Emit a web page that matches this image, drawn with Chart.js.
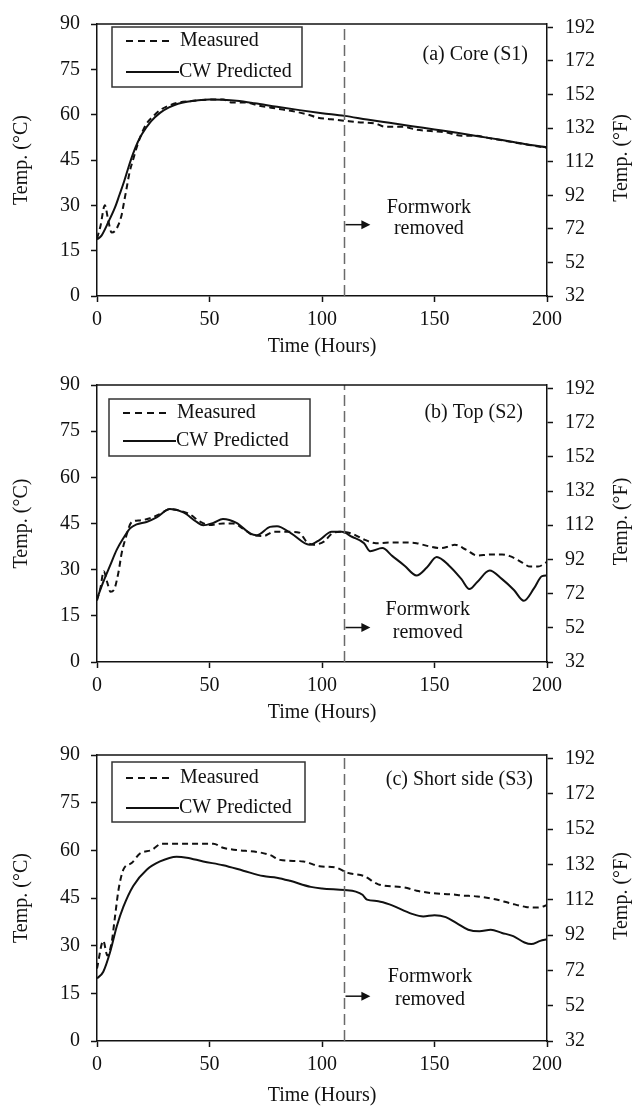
<!DOCTYPE html>
<html>
<head>
<meta charset="utf-8">
<script src="https://cdn.jsdelivr.net/npm/chart.js@4.4.1/dist/chart.umd.min.js"></script>
<style>
  body { margin: 0; background: #fff; width: 634px; height: 1109px; position: relative; overflow: hidden; }
  .panel { position: absolute; left: 0; }
</style>
</head>
<body>
<div class="panel" style="top:0"><canvas id="c1" width="634" height="359"></canvas></div>
<div class="panel" style="top:361px"><canvas id="c2" width="634" height="364"></canvas></div>
<div class="panel" style="top:731px"><canvas id="c3" width="634" height="377"></canvas></div>
<script>
// tick labels
const hourTicks = [0, 50, 100, 150, 200];
const celsiusTicks = [0, 15, 30, 45, 60, 75, 90];
const fahrenheitTicks = [32, 52, 72, 92, 112, 132, 152, 172, 192];
const formworkHour = 110;

// (a) core S1
const coreMeasHours = [0, 1.5, 3.5, 5, 6.5, 8, 9.5, 11, 12, 13, 14.5, 16, 18, 20, 22, 25, 28, 32, 36, 42, 50, 56, 60, 66, 72, 80, 88, 94, 98, 104, 110, 116, 124, 128, 136, 142, 150, 156, 162, 168, 176, 184, 192, 200];
const coreMeasTemp = [19, 23, 30, 25, 21, 21.5, 23.5, 27, 31, 35, 41, 45, 50, 54, 57, 59.5, 61.5, 63, 64, 64.5, 65, 65, 64, 64, 63, 62, 61, 60, 59, 58.5, 58, 57.5, 57, 56, 56, 55, 54.5, 54, 53, 53, 52, 51, 50, 49];
const corePredHours = [0, 2, 5, 8, 10, 12, 14, 16, 18, 20, 24, 28, 32, 36, 40, 45, 50, 56, 62, 70, 80, 90, 100, 110, 120, 130, 140, 150, 160, 170, 180, 190, 200];
const corePredTemp = [18.7, 20, 24.4, 29.3, 33.5, 37.8, 42.6, 47, 50.7, 53.6, 57.8, 60.6, 62.4, 63.6, 64.3, 64.8, 65, 64.9, 64.6, 63.8, 62.6, 61.5, 60.5, 59.6, 58.4, 57.3, 56.2, 55.1, 54, 52.8, 51.6, 50.3, 49.2];

// (b) top S2
const topMeasHours = [0, 1.5, 3, 4.5, 6, 7.5, 9.5, 11, 12.5, 15.5, 19, 23.5, 28, 32.5, 37, 41, 46, 50, 56, 60.5, 65, 69.5, 74, 78.5, 86, 90, 93, 96, 101, 104.5, 108, 113, 119, 124, 130, 137, 142, 147.5, 153, 156.5, 159, 164, 169, 174.5, 180, 183.5, 189, 192.5, 196, 200];
const topMeasTemp = [20, 24, 29.5, 26, 22.8, 23.4, 29, 35.5, 39.7, 45.5, 46, 46.7, 48.1, 49.7, 49.1, 48.1, 45.5, 44.5, 45, 45, 43.3, 41.2, 40.9, 42.3, 42.3, 42, 39.2, 38.1, 39.2, 41.8, 42.3, 41.8, 39.7, 38.6, 38.8, 38.8, 38.6, 37.6, 37, 37.6, 38.1, 36.5, 34.6, 34.9, 34.9, 34.4, 32.3, 31, 31, 32.5];
const topPredHours = [0, 2.8, 5.8, 8.8, 11.7, 14.7, 17.6, 22, 26.5, 32.4, 38.4, 44.3, 47.2, 51.7, 56, 62, 68, 71, 76.9, 80, 86.3, 94.4, 99, 104.3, 108.8, 113.3, 118.7, 121.4, 126.8, 131.3, 136.7, 142, 146.6, 151, 156.5, 161.9, 165.5, 169, 174.5, 179.9, 185.3, 189.7, 194.2, 197.8, 200];
const topPredTemp = [20.5, 26, 31.3, 36.5, 40.2, 43.4, 44.7, 45.5, 47, 49.7, 48.6, 45.5, 44.4, 45.2, 46.5, 45.2, 41.8, 41.2, 43.9, 44.1, 41.8, 38.1, 39.7, 42.3, 42.3, 40.7, 38.6, 36, 37, 34.4, 31.3, 28.1, 30.7, 34.1, 31.3, 27, 23.7, 26, 29.7, 27, 23.4, 19.9, 23.9, 27.9, 28.1];

// (c) short side S3
const sideMeasHours = [0, 2.8, 4.6, 6.5, 8, 9.5, 11.7, 15.4, 19.1, 24.3, 28.8, 40, 51.7, 56, 62, 71, 77, 81.3, 91.7, 98.9, 106, 111.5, 118.7, 125, 136.7, 142, 149.3, 158.3, 162, 169, 176.3, 183.5, 190.6, 196, 200];
const sideMeasTemp = [22.8, 31.5, 26.9, 31, 39.1, 47.3, 53.9, 56, 59, 60.1, 62.1, 62.1, 62.1, 60.8, 60.1, 59.5, 58.5, 57, 56.5, 55, 54.6, 52.9, 51.9, 49.3, 48.3, 47.3, 46.5, 46.1, 45.8, 45.5, 44.7, 43.4, 42.2, 42, 42.7];
const sidePredHours = [0, 2.8, 5.8, 8.8, 11.7, 16.1, 22.1, 28, 35.4, 39.9, 47.2, 56.1, 65, 73.9, 79.9, 85.8, 95, 100, 110, 115, 118, 120, 125, 130, 140, 145, 150, 155, 160, 165, 170, 175, 180, 185, 190, 193, 197, 200];
const sidePredTemp = [19.7, 21.8, 27.9, 36.1, 42.2, 48.8, 53.9, 56.5, 58, 57.7, 56.5, 55.3, 53.6, 51.9, 51.4, 50.4, 48.5, 48, 47.5, 47, 46, 44.5, 44, 43, 40, 39.2, 39.6, 39, 37, 35, 34.5, 35, 34, 33, 31, 30.5, 31.5, 32];

const FONT = '"Liberation Serif", "Times New Roman", serif';
const INK = '#111';

const panels = [
  { id: 'c1', axisH: 63, label: '(a) Core (S1)', labelPos: [-19, 31],
    legend: [15, 3, 190, 60, 17, 48], note: [147.5, 29.3, 22.2, 23.6],
    mh: coreMeasHours, mt: coreMeasTemp, ph: corePredHours, pt: corePredTemp },
  { id: 'c2', axisH: 63, label: '(b) Top (S2)', labelPos: [-24, 28],
    legend: [12, 14, 201, 57, 28, 56], note: [147, 17.05, 9.35, 11.2],
    mh: topMeasHours, mt: topMeasTemp, ph: topPredHours, pt: topPredTemp },
  { id: 'c3', axisH: 67, label: '(c) Short side (S3)', labelPos: [-14, 25],
    legend: [15, 7, 193, 60, 23, 53], note: [148, 20.2, 13.1, 14.1],
    mh: sideMeasHours, mt: sideMeasTemp, ph: sidePredHours, pt: sidePredTemp }
];

function pts(xs, ys) {
  return xs.map((x, i) => ({ x: x, y: ys[i] }));
}

const decor = {
  id: 'decor',
  afterDraw(chart) {
    const o = chart.options.plugins.decor;
    const ctx = chart.ctx;
    const a = chart.chartArea;
    const sx = chart.scales.x, sy = chart.scales.y;
    ctx.save();
    ctx.strokeStyle = INK;
    ctx.fillStyle = INK;
    ctx.lineWidth = 1.5;
    // top frame line
    ctx.beginPath();
    ctx.moveTo(a.left, a.top);
    ctx.lineTo(a.right, a.top);
    ctx.stroke();

    ctx.font = '20px ' + FONT;
    ctx.textBaseline = 'middle';

    // legend box
    const [lx, ly, lw, lh, r1, r2] = o.legend;
    const bx = a.left + lx, by = a.top + ly;
    ctx.fillStyle = '#fff';
    ctx.fillRect(bx, by, lw, lh);
    ctx.strokeStyle = '#333';
    ctx.strokeRect(bx, by, lw, lh);
    ctx.strokeStyle = INK;
    ctx.fillStyle = INK;
    ctx.lineWidth = 2;
    ctx.setLineDash([7, 5]);
    ctx.beginPath();
    ctx.moveTo(bx + 14, a.top + r1);
    ctx.lineTo(bx + 61, a.top + r1);
    ctx.stroke();
    ctx.setLineDash([]);
    ctx.beginPath();
    ctx.moveTo(bx + 14, a.top + r2);
    ctx.lineTo(bx + 67, a.top + r2);
    ctx.stroke();
    ctx.textAlign = 'left';
    ctx.fillText('Measured', bx + 68, a.top + r1);
    ctx.fillText('CW Predicted', bx + 67, a.top + r2);

    // panel label
    ctx.textAlign = 'right';
    ctx.fillText(o.label, a.right + o.labelPos[0], a.top + o.labelPos[1]);

    // formwork note
    const [nh, t1, t2, ta] = o.note;
    ctx.textAlign = 'center';
    ctx.fillText('Formwork', sx.getPixelForValue(nh), sy.getPixelForValue(t1));
    ctx.fillText('removed', sx.getPixelForValue(nh), sy.getPixelForValue(t2));
    const ax0 = sx.getPixelForValue(formworkHour) + 1;
    const ax1 = sx.getPixelForValue(formworkHour + 11.5);
    const ay = sy.getPixelForValue(ta);
    ctx.lineWidth = 1.5;
    ctx.beginPath();
    ctx.moveTo(ax0, ay);
    ctx.lineTo(ax1 - 7, ay);
    ctx.stroke();
    ctx.beginPath();
    ctx.moveTo(ax1, ay);
    ctx.lineTo(ax1 - 9, ay - 4.5);
    ctx.lineTo(ax1 - 9, ay + 4.5);
    ctx.closePath();
    ctx.fill();

    // right axis title, reading bottom to top
    ctx.translate(622, (a.top + a.bottom) / 2 - 2);
    ctx.rotate(-Math.PI / 2);
    ctx.textAlign = 'center';
    ctx.fillText('Temp. (\u00B0F)', 0, 0);
    ctx.restore();
  }
};

panels.forEach(p => {
  new Chart(document.getElementById(p.id), {
    type: 'line',
    data: {
      datasets: [
        {
          label: 'Formwork removed',
          data: [{ x: formworkHour, y: 0 }, { x: formworkHour, y: 90 }],
          borderColor: '#6a6a6a',
          borderWidth: 1.5,
          borderDash: [11, 5],
          pointRadius: 0,
          yAxisID: 'y'
        },
        {
          label: 'CW Predicted',
          data: pts(p.ph, p.pt),
          borderColor: INK,
          borderWidth: 2,
          pointRadius: 0,
          cubicInterpolationMode: 'monotone',
          yAxisID: 'y'
        },
        {
          label: 'Measured',
          data: pts(p.mh, p.mt),
          borderColor: INK,
          borderWidth: 2,
          borderDash: [6, 4],
          pointRadius: 0,
          cubicInterpolationMode: 'monotone',
          yAxisID: 'y'
        }
      ]
    },
    options: {
      responsive: false,
      animation: false,
      events: [],
      layout: { padding: { top: 16, left: 0, right: 0, bottom: 0 } },
      plugins: {
        legend: { display: false },
        tooltip: { enabled: false },
        decor: { label: p.label, labelPos: p.labelPos, legend: p.legend, note: p.note }
      },
      scales: {
        x: {
          type: 'linear',
          min: 0,
          max: 200,
          afterBuildTicks: s => { s.ticks = hourTicks.map(v => ({ value: v })); },
          afterFit: s => { s.height = p.axisH; },
          border: { display: true, color: INK, width: 1.5 },
          grid: { drawOnChartArea: false, drawTicks: true, tickLength: 6, tickWidth: 1.5, tickColor: INK },
          ticks: { padding: 6, color: INK, font: { family: FONT, size: 20 } },
          title: { display: true, text: 'Time (Hours)', color: INK, padding: { top: 0, bottom: 0 }, font: { family: FONT, size: 20 } }
        },
        y: {
          position: 'left',
          min: 0,
          max: 90,
          afterBuildTicks: s => { s.ticks = celsiusTicks.map(v => ({ value: v })); },
          afterFit: s => { s.width = 97; },
          border: { display: true, color: INK, width: 1.5 },
          grid: { drawOnChartArea: false, drawTicks: true, tickLength: 6, tickWidth: 1.5, tickColor: INK },
          ticks: { padding: 11, color: INK, font: { family: FONT, size: 20 } },
          title: { display: true, text: 'Temp. (\u00B0C)', color: INK, padding: { top: 10, bottom: 0 }, font: { family: FONT, size: 20 } }
        },
        y2: {
          position: 'right',
          min: 32,
          max: 194,
          afterBuildTicks: s => { s.ticks = fahrenheitTicks.map(v => ({ value: v })); },
          afterFit: s => { s.width = 87; },
          border: { display: true, color: INK, width: 1.5 },
          grid: { drawOnChartArea: false, drawTicks: true, tickLength: 6, tickWidth: 1.5, tickColor: INK },
          ticks: { padding: 12, color: INK, font: { family: FONT, size: 20 } }
        }
      }
    },
    plugins: [decor]
  });
});
</script>
</body>
</html>
